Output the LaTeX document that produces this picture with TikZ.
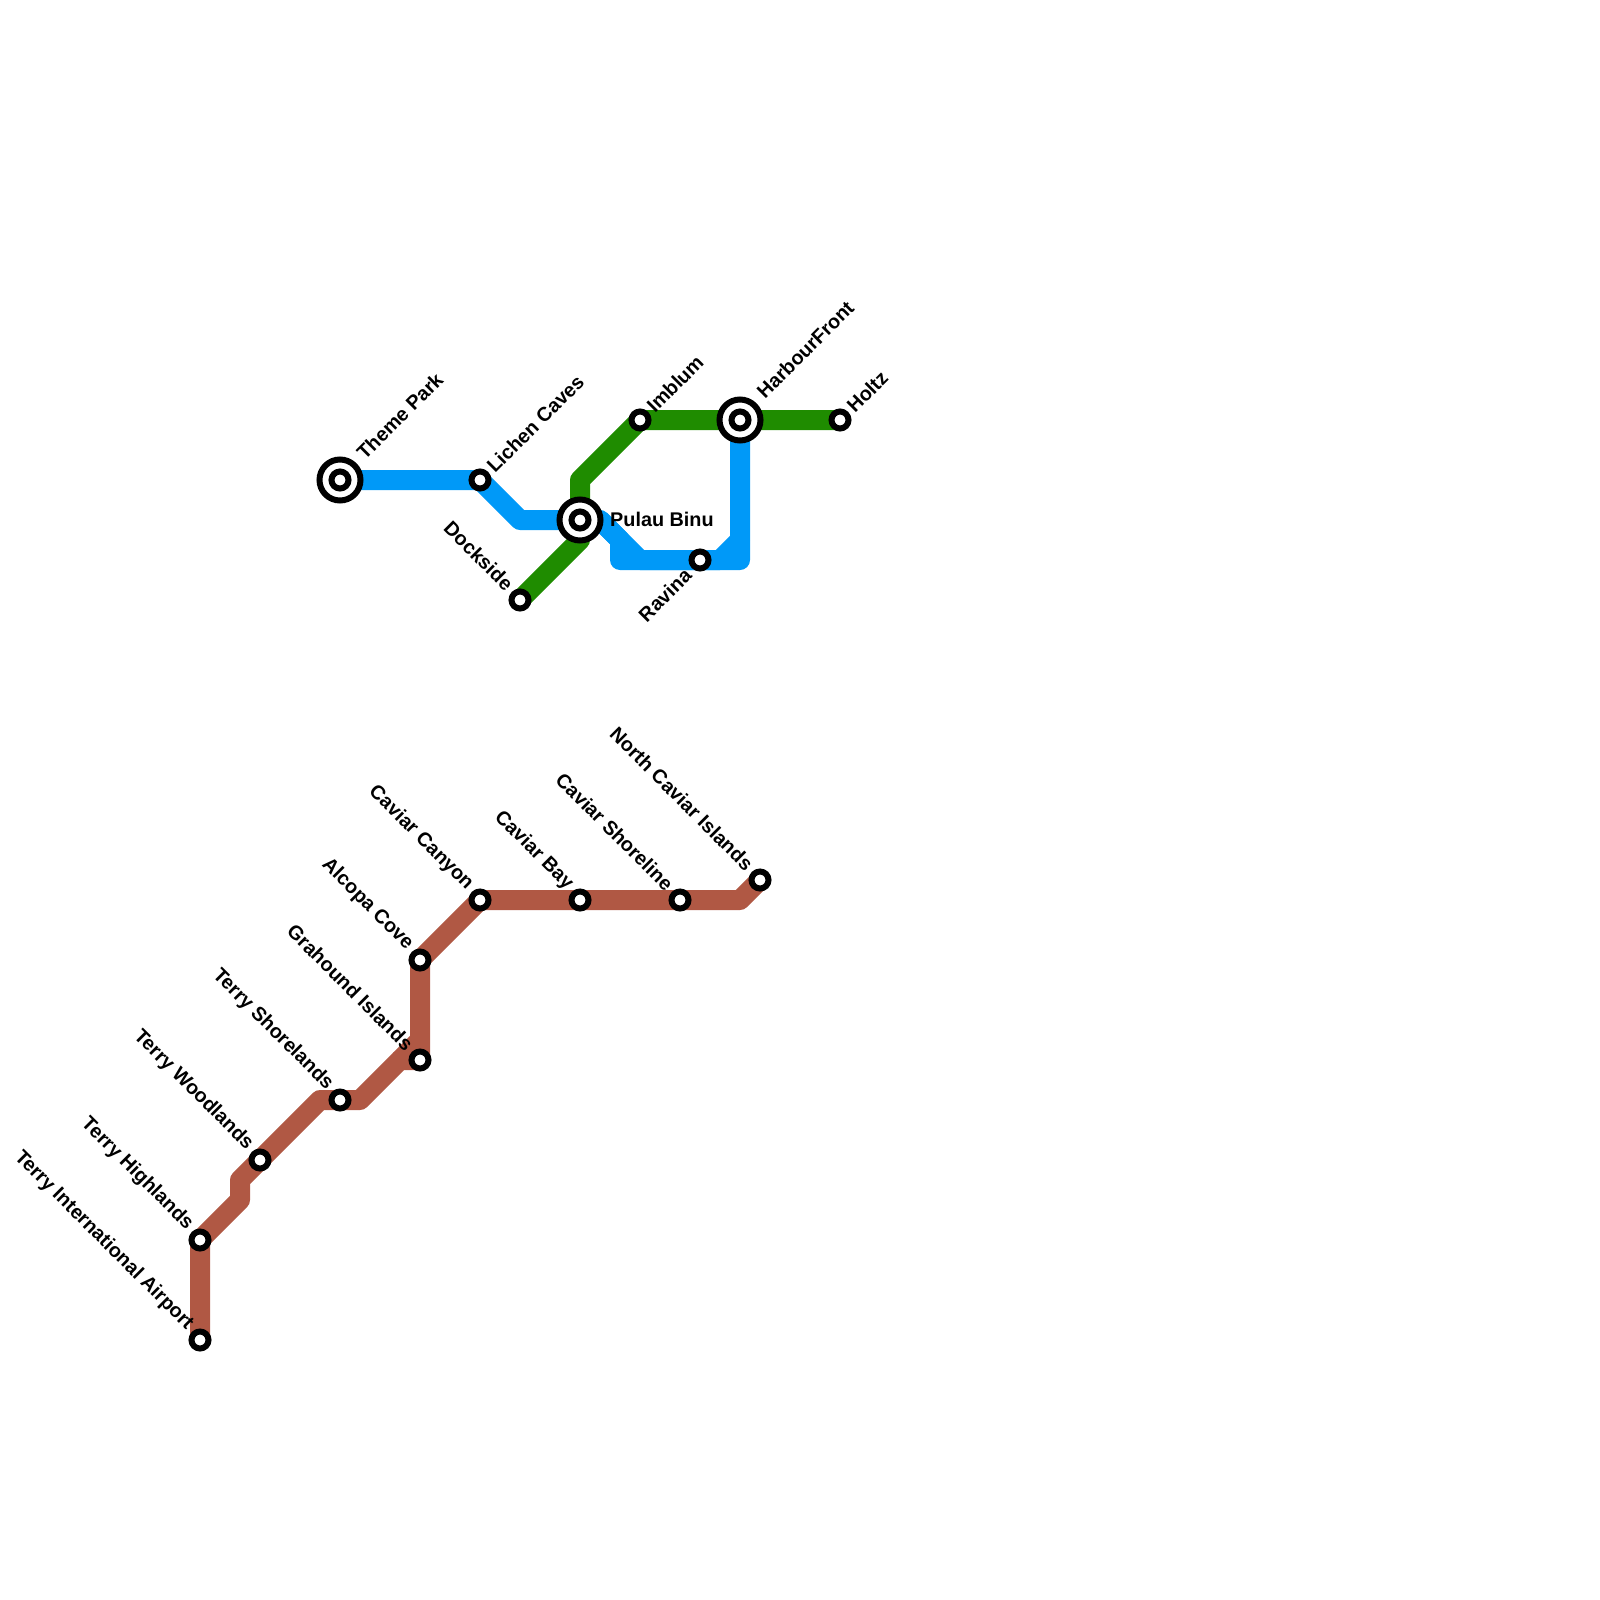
\documentclass[tikz,border=0pt]{standalone}
\usepackage{fontspec}
\setmainfont{Liberation Sans Bold}
\definecolor{blueline}{RGB}{0,153,248}
\definecolor{greenline}{RGB}{31,140,0}
\definecolor{brownline}{RGB}{176,88,68}
\tikzset{
  route/.style={line width=20pt,line join=round,line cap=butt},
  stn/.style={circle,draw=black,fill=white,line width=6pt,minimum size=17pt,inner sep=0pt,outer sep=0pt},
  hubouter/.style={circle,draw=black,fill=white,line width=6pt,minimum size=41pt,inner sep=0pt,outer sep=0pt},
  lab/.style={font=\fontsize{19.8}{21}\selectfont,text=black,inner sep=0pt},
  up/.style={lab,rotate=45,anchor=west},
  upl/.style={lab,rotate=45,anchor=east},
  dn/.style={lab,rotate=-45,anchor=east}
}
\begin{document}
\begin{tikzpicture}[x=1pt,y=-1pt]
\useasboundingbox (0,0) rectangle (1600,1600);
% stations
\coordinate (theme) at (340,480);
\coordinate (lichen) at (480,480);
\coordinate (b1) at (520,520);
\coordinate (pulau) at (580,520);
\coordinate (b2) at (600,520);
\coordinate (b3) at (640,560);
\coordinate (ravina) at (700,560);
\coordinate (b4) at (720,560);
\coordinate (b5) at (740,540);
\coordinate (harbour) at (740,420);
\coordinate (b6) at (620,540);
\coordinate (b7) at (620,560);
\coordinate (b8) at (740,560);
\coordinate (dock) at (520,600);
\coordinate (g1) at (580,540);
\coordinate (g2) at (580,480);
\coordinate (imblum) at (640,420);
\coordinate (holtz) at (840,420);
\coordinate (air) at (200,1340);
\coordinate (high) at (200,1240);
\coordinate (r1) at (240,1200);
\coordinate (r2) at (240,1180);
\coordinate (wood) at (260,1160);
\coordinate (r3) at (320,1100);
\coordinate (shore) at (340,1100);
\coordinate (r4) at (360,1100);
\coordinate (r5) at (400,1060);
\coordinate (r7) at (420,1040);
\coordinate (gra) at (420,1060);
\coordinate (alc) at (420,960);
\coordinate (can) at (480,900);
\coordinate (bay) at (580,900);
\coordinate (csh) at (680,900);
\coordinate (r6) at (740,900);
\coordinate (north) at (760,880);
% lines
\draw[route,blueline] (theme)--(lichen)--(b1)--(pulau)--(b2)--(b3)--(ravina)--(b4)--(b5)--(harbour);
\draw[route,blueline] (b2)--(b6)--(b7)--(b3)--(b8)--(b5);
\draw[route,greenline] (dock)--(g1)--(g2)--(imblum)--(harbour)--(holtz);
\draw[route,brownline] (air)--(high)--(r1)--(r2)--(wood)--(r3)--(shore)--(r4)--(r5)--(gra)--(alc)--(can)--(bay)--(csh)--(r6)--(north);
\draw[route,brownline] (r5)--(r7);
% interchanges
\node[hubouter] (nTheme) at (theme) {};
\node[hubouter] (nPulau) at (pulau) {};
\node[hubouter] (nHarbour) at (harbour) {};
\foreach \c/\n in {theme/iT,pulau/iP,harbour/iH,lichen/sL,imblum/sI,holtz/sH,dock/sD,ravina/sR,air/sA,high/sB,wood/sW,shore/sS,gra/sG,alc/sC,can/sN,bay/sY,csh/sO,north/sZ}
  \node[stn] (\n) at (\c) {};
% labels
\node[up] (tTheme) at (360,456) {Theme Park};
\node[up] (tLichen) at (490,469) {Lichen Caves};
\node[up] (tImblum) at (650,409) {Imblum};
\node[up] (tHarbour) at (760,395) {HarbourFront};
\node[up] (tHoltz) at (850,409) {Holtz};
\node[lab,anchor=west] (tPulau) at (610,519) {Pulau Binu};
\node[dn] (tDock) at (510,587) {Dockside};
\node[upl] (tRavina) at (688,572) {Ravina};
\node[dn] (tAir) at (190,1327) {Terry International Airport};
\node[dn] (tHigh) at (190,1227) {Terry Highlands};
\node[dn] (tWood) at (250,1147) {Terry Woodlands};
\node[dn] (tShore) at (330,1087) {Terry Shorelands};
\node[dn] (tGra) at (410,1047) {Grahound Islands};
\node[dn] (tAlc) at (410,947) {Alcopa Cove};
\node[dn] (tCan) at (470,887) {Caviar Canyon};
\node[dn] (tBay) at (570,887) {Caviar Bay};
\node[dn] (tCsh) at (670,887) {Caviar Shoreline};
\node[dn] (tNorth) at (750,867) {North Caviar Islands};
\end{tikzpicture}
\end{document}
